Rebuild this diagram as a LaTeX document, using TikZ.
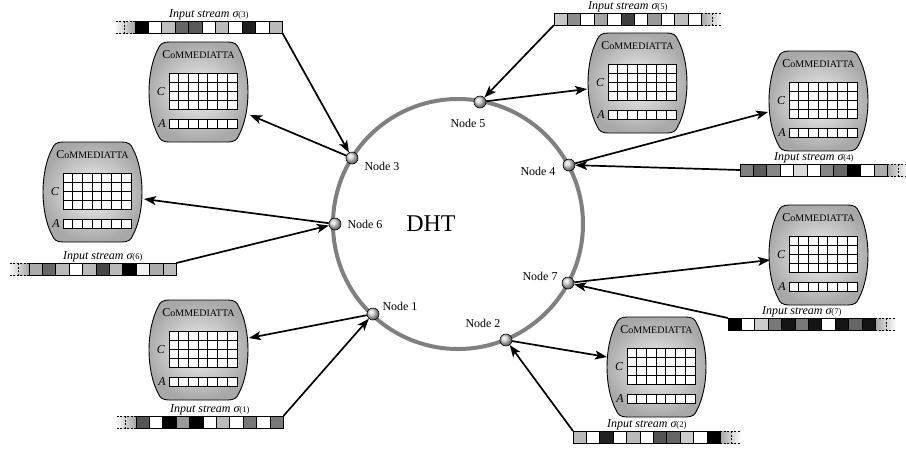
\documentclass[tikz,border=0pt]{standalone}
\usepackage{fontspec}
\setmainfont{Liberation Serif}
\usetikzlibrary{arrows.meta,shadings}

\tikzset{
  ring/.style={draw=black!50, line width=4pt},
  ball/.style={circle, draw=black, line width=0.6pt, minimum size=12pt, inner sep=0pt, ball color=black!15},
  arr/.style={line width=1.7pt, -{Stealth[length=12pt,width=9pt,inset=3pt]}},
  nlabel/.style={font=\fontsize{12}{14}\selectfont, inner sep=0pt},
  cell/.style={draw=black, line width=0.8pt},
  gridline/.style={draw=black, line width=0.8pt},
  slabel/.style={font=\fontsize{12}{14}\selectfont\itshape, anchor=base, inner sep=0pt},
  boxshape/.style={draw=black, line width=0.9pt, shading=radial, inner color=black!4, outer color=black!34},
  dashedge/.style={draw=black, line width=0.6pt, dash pattern=on 2pt off 1.5pt},
}

% dashed continuation on the left / right of a stream
\newcommand\dashL[2]{%
  \fill[left color=white, right color=black!35] (#1-21,#2) rectangle (#1,#2+12);
  \draw[dashedge] (#1,#2) -- (#1-21,#2) (#1,#2+12) -- (#1-21,#2+12) (#1-10.5,#2) -- (#1-10.5,#2+12);
}
\newcommand\dashR[2]{%
  \fill[left color=black!35, right color=white] (#1+147.4,#2) rectangle (#1+168.4,#2+12);
  \draw[dashedge] (#1+147.4,#2) -- (#1+168.4,#2) (#1+147.4,#2+12) -- (#1+168.4,#2+12) (#1+157.9,#2) -- (#1+157.9,#2+12);
}
% #1 name, #2 x, #3 y top, #4 colours, #5 L/R, #6 index
\newcommand\instream[6]{%
  \csname dash#5\endcsname{#2}{#3}
  \foreach \col [count=\i from 0] in {#4} {\filldraw[cell, fill=\col] (#2+\i*13.4,#3) rectangle ++(13.4,12);}
  \node[slabel] (#1lab) at (#2+73.7,#3-3.5) {Input stream σ{\upshape\fontsize{8.5}{9}\selectfont(#6)}};
  \coordinate (#1nw) at (#2,#3);
  \coordinate (#1sw) at (#2,#3+12);
  \coordinate (#1w) at (#2,#3+6);
  \coordinate (#1ne) at (#2+147.4,#3);
  \coordinate (#1se) at (#2+147.4,#3+12);
}
% #1 name, #2 x, #3 y top-left of CoMMEDIATTA box
\newcommand\commbox[3]{%
  \begin{scope}[shift={(#2,#3)}]
    \path[boxshape] (20,0) -- (79,0) .. controls (85,0) and (88,2) .. (90,7)
      .. controls (102,30) and (102,70) .. (90,93)
      .. controls (88,98) and (85,100) .. (79,100) -- (20,100)
      .. controls (14,100) and (11,98) .. (9,93)
      .. controls (-3,70) and (-3,30) .. (9,7)
      .. controls (11,2) and (14,0) .. (20,0) -- cycle;
    \node[inner sep=0pt] (#1title) at (49.5,13) {\fontsize{12}{13}\selectfont C{\fontsize{10}{11}\selectfont o}{\fontsize{10}{11}\selectfont MMEDIATTA}};
    \node[inner sep=0pt, font=\fontsize{12}{13}\selectfont\itshape] (#1C) at (12,50) {C};
    \node[inner sep=0pt, font=\fontsize{12}{13}\selectfont\itshape] (#1A) at (13,82) {A};
    \filldraw[gridline, fill=white] (20,31) rectangle (88,67);
    \foreach \k in {1,...,6} \draw[gridline] (20+\k*9.714,31) -- (20+\k*9.714,67);
    \foreach \k in {1,2,3} \draw[gridline] (20,31+\k*9) -- (88,31+\k*9);
    \filldraw[gridline, fill=white] (20,77) rectangle (88,86);
    \foreach \k in {1,...,6} \draw[gridline] (20+\k*9.714,77) -- (20+\k*9.714,86);
  \end{scope}
}

\begin{document}
\begin{tikzpicture}[x=1pt, y=-1pt]
\useasboundingbox (0,0) rectangle (906,451);
\fill[white] (0,0) rectangle (906,451);

% DHT ring
\draw[ring] (458,224) circle (125);
\node[font=\fontsize{24}{26}\selectfont, inner sep=0pt] (dht) at (431,224) {DHT};

% ring nodes
\node[ball] (n5) at (480,102) {};
\node[ball] (n3) at (352,158) {};
\node[ball] (n4) at (569,165) {};
\node[ball] (n6) at (335,224) {};
\node[ball] (n1) at (373,314) {};
\node[ball] (n2) at (506,340) {};
\node[ball] (n7) at (568,283) {};

\node[nlabel] (l5) at (468,123) {Node 5};
\node[nlabel] (l3) at (382,166) {Node 3};
\node[nlabel] (l4) at (538,171) {Node 4};
\node[nlabel] (l6) at (365,224) {Node 6};
\node[nlabel] (l1) at (400,306) {Node 1};
\node[nlabel] (l2) at (483,323) {Node 2};
\node[nlabel] (l7) at (540,276) {Node 7};

% CoMMEDIATTA boxes
\commbox{b3}{149}{42}
\commbox{b6}{43}{142}
\commbox{b1}{149}{300}
\commbox{b5}{588}{33}
\commbox{b4}{769}{51}
\commbox{b7}{769}{205}
\commbox{b2}{607}{317}

% input streams
\instream{s3}{135}{21}{black,white,black!25,black!60,black!65,white,black!27,white,black!88,white,black!27}{L}{3}
\instream{s5}{554}{13}{black!22,black!45,white,black!35,white,black!75,white,black!40,white,black!25,white}{R}{5}
\instream{s4}{740}{164}{black!50,black!65,black!47,white,black!15,white,black!47,black!60,black,white,black!33}{R}{4}
\instream{s6}{29}{263}{black!33,black!60,black!27,white,black!27,black!72,black!27,black,black!5,black!33,black!27}{L}{6}
\instream{s7}{728}{318}{black,white,black!20,black!53,black!92,black!53,black!92,white,black!92,black!60,black!92}{R}{7}
\instream{s2}{573}{431}{black!27,white,black!87,white,black!27,white,black!67,black!60,black!20,white,black}{R}{2}
\instream{s1}{136}{416}{black!67,white,black,black!40,black,white,black!27,white,black!53,white,black!53}{L}{1}

% arrow targets on boxes
\coordinate (t3) at (250,115);
\coordinate (t6) at (144,199);
\coordinate (t1) at (249,338);
\coordinate (t5) at (587,89);
\coordinate (t4) at (768,112);
\coordinate (t7) at (770,260);
\coordinate (t2) at (607,357);

% connectors
\draw[arr] (s3se) -- (n3);
\draw[arr] (n3) -- (t3);
\draw[arr] (s6ne) -- (n6);
\draw[arr] (n6) -- (t6);
\draw[arr] (s1ne) -- (n1);
\draw[arr] (n1) -- (t1);
\draw[arr] (s5sw) -- (n5);
\draw[arr] (n5) -- (t5);
\draw[arr] (s4w) -- (n4);
\draw[arr] (n4) -- (t4);
\draw[arr] (s7nw) -- (n7);
\draw[arr] (n7) -- (t7);
\draw[arr] (s2nw) -- (n2);
\draw[arr] (n2) -- (t2);
\end{tikzpicture}
\end{document}
